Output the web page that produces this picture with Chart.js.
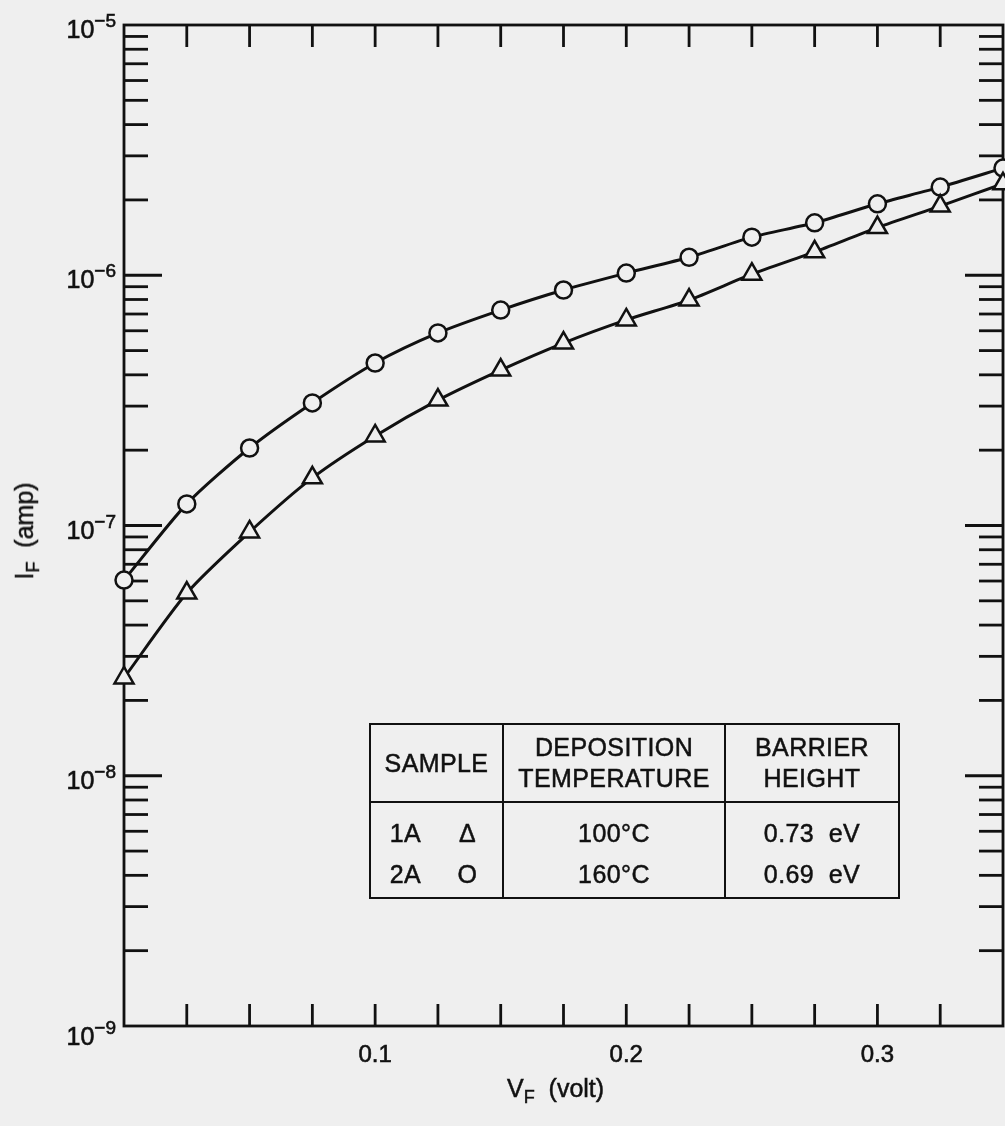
<!DOCTYPE html>
<html>
<head>
<meta charset="utf-8">
<script src="https://cdn.jsdelivr.net/npm/chart.js@4.4.1/dist/chart.umd.min.js"></script>
<style>
  html, body { margin: 0; padding: 0; background: #efefef; }
  #wrap { position: relative; width: 1005px; height: 1126px; font-family: "Liberation Sans", Arial, sans-serif; color: #111; -webkit-text-stroke: 0.5px #111; }
  #chart { position: absolute; left: 0; top: 0; }
  .axisTitle { position: absolute; font-size: 25px; white-space: nowrap; }
  .axisTitle sub { font-size: 18px; vertical-align: -6px; }
  #xTitle { left: 507px; top: 1074px; }
  #yTitle { left: 27px; top: 531px; transform: translate(-50%, -50%) rotate(-90deg); }
  #info { position: absolute; left: 369px; top: 723px; border-collapse: collapse; font-size: 25px; letter-spacing: 0.4px; }
  #info td { border: 2.5px solid #111; text-align: center; padding: 0; }
  #info .head td { height: 76px; line-height: 31px; }
  #info .body td { height: 96px; line-height: 41px; vertical-align: top; padding-top: 10px; box-sizing: border-box; }
  .id { display: inline-block; width: 40px; text-align: center; }
  .sym { display: inline-block; width: 40px; margin-left: 22px; text-align: center; }
</style>
</head>
<body>
<div id="wrap">
  <canvas id="chart" width="1005" height="1126"></canvas>
  <div class="axisTitle" id="xTitle">V<sub>F</sub>&nbsp;&nbsp;(volt)</div>
  <div class="axisTitle" id="yTitle">I<sub>F</sub>&nbsp;&nbsp;(amp)</div>
  <table id="info">
    <tr class="head">
      <td style="width:131px">SAMPLE</td>
      <td style="width:220px">DEPOSITION<br>TEMPERATURE</td>
      <td style="width:172px">BARRIER<br>HEIGHT</td>
    </tr>
    <tr class="body">
      <td><span class="id">1A</span><span class="sym">Δ</span><br><span class="id">2A</span><span class="sym">O</span></td>
      <td>100°C<br>160°C</td>
      <td>0.73&nbsp; eV<br>0.69&nbsp; eV</td>
    </tr>
  </table>
</div>
<script>
// ------------------------
// Data
// ------------------------

const voltage = [0, 0.025, 0.05, 0.075, 0.1, 0.125, 0.15, 0.175, 0.2, 0.225, 0.25, 0.275, 0.3, 0.325, 0.35];

// sample 2A (circles), amp
const current2A = [6.05e-8, 1.22e-7, 2.04e-7, 3.09e-7, 4.46e-7, 5.88e-7, 7.26e-7, 8.73e-7,
                   1.02e-6, 1.18e-6, 1.42e-6, 1.62e-6, 1.93e-6, 2.25e-6, 2.68e-6];

// sample 1A (triangles), amp
const current1A = [2.46e-8, 5.37e-8, 9.42e-8, 1.55e-7, 2.28e-7, 3.17e-7, 4.18e-7, 5.36e-7,
                   6.63e-7, 7.96e-7, 1.01e-6, 1.24e-6, 1.55e-6, 1.89e-6, 2.32e-6];

const xTickValues = [0.025, 0.05, 0.075, 0.1, 0.125, 0.15, 0.175, 0.2, 0.225, 0.25, 0.275, 0.3, 0.325];
const xTickLabels = ["0.1", "0.2", "0.3"];
const yDecadeExps = [-5, -6, -7, -8, -9];
const yMinorSteps = [2, 3, 4, 5, 6, 7, 8, 9];

const ink = "#111";
const paper = "#efefef";
const face = "'Liberation Sans', Arial, sans-serif";

// ------------------------
// Frame, inward ticks and tick labels
// ------------------------

const framePlugin = {
    id: "frame",
    beforeDatasetsDraw(chart) {
        const { ctx, chartArea: a, scales: { x, y } } = chart;
        ctx.save();
        ctx.strokeStyle = ink;
        ctx.fillStyle = ink;
        ctx.lineWidth = 2.8;
        ctx.lineCap = "butt";

        const seg = (x1, y1, x2, y2) => {
            ctx.beginPath();
            ctx.moveTo(x1, y1);
            ctx.lineTo(x2, y2);
            ctx.stroke();
        };

        ctx.strokeRect(a.left, a.top, a.right - a.left, a.bottom - a.top);

        xTickValues.forEach(v => {
            const px = x.getPixelForValue(v);
            seg(px, a.bottom, px, a.bottom - 22);
            seg(px, a.top, px, a.top + 22);
        });

        yDecadeExps.forEach(e => {
            if (e === -5) return;
            yMinorSteps.forEach(m => {
                const py = y.getPixelForValue(m * Math.pow(10, e));
                seg(a.left, py, a.left + 24, py);
                seg(a.right, py, a.right - 24, py);
            });
            if (e !== -9) {
                const py = y.getPixelForValue(Math.pow(10, e));
                seg(a.left, py, a.left + 38, py);
                seg(a.right, py, a.right - 38, py);
            }
        });

        // text slightly heavier, like the printed original
        ctx.lineWidth = 0.6;
        const write = (t, px, py) => {
            ctx.fillText(t, px, py);
            ctx.strokeText(t, px, py);
        };

        // y labels: 10 with superscript exponent
        yDecadeExps.forEach(e => {
            const py = y.getPixelForValue(Math.pow(10, e));
            const base = py + (e === -9 ? 19 : 13);
            const sup = "\u2212" + Math.abs(e);
            ctx.font = "19px " + face;
            const supW = ctx.measureText(sup).width;
            ctx.textAlign = "left";
            ctx.textBaseline = "alphabetic";
            const right = a.left - 8;
            write(sup, right - supW, base - 11);
            ctx.font = "25px " + face;
            ctx.textAlign = "right";
            write("10", right - supW, base);
        });

        // x labels
        ctx.font = "24px " + face;
        ctx.textAlign = "center";
        xTickLabels.forEach(t => {
            write(t, x.getPixelForValue(parseFloat(t)), a.bottom + 36);
        });

        ctx.restore();
    }
};

// ------------------------
// Chart
// ------------------------

const seriesStyle = {
    showLine: true,
    borderColor: ink,
    borderWidth: 3,
    pointBorderColor: ink,
    pointBackgroundColor: paper,
    pointBorderWidth: 2.5,
    tension: 0.25,
    clip: false
};

new Chart(document.getElementById("chart"), {
    type: "scatter",
    data: {
        datasets: [
            {
                ...seriesStyle,
                label: "1A",
                data: voltage.map((v, i) => ({ x: v, y: current1A[i] })),
                pointStyle: "triangle",
                pointRadius: 11
            },
            {
                ...seriesStyle,
                label: "2A",
                data: voltage.map((v, i) => ({ x: v, y: current2A[i] })),
                pointStyle: "circle",
                pointRadius: 8.5
            }
        ]
    },
    options: {
        responsive: false,
        animation: false,
        layout: { autoPadding: false, padding: { left: 124, top: 25, right: 2, bottom: 100 } },
        plugins: { legend: { display: false }, tooltip: { enabled: false } },
        scales: {
            x: { type: "linear", min: 0, max: 0.35, display: false },
            y: { type: "logarithmic", min: 1e-9, max: 1e-5, display: false }
        }
    },
    plugins: [framePlugin]
});
</script>
</body>
</html>
